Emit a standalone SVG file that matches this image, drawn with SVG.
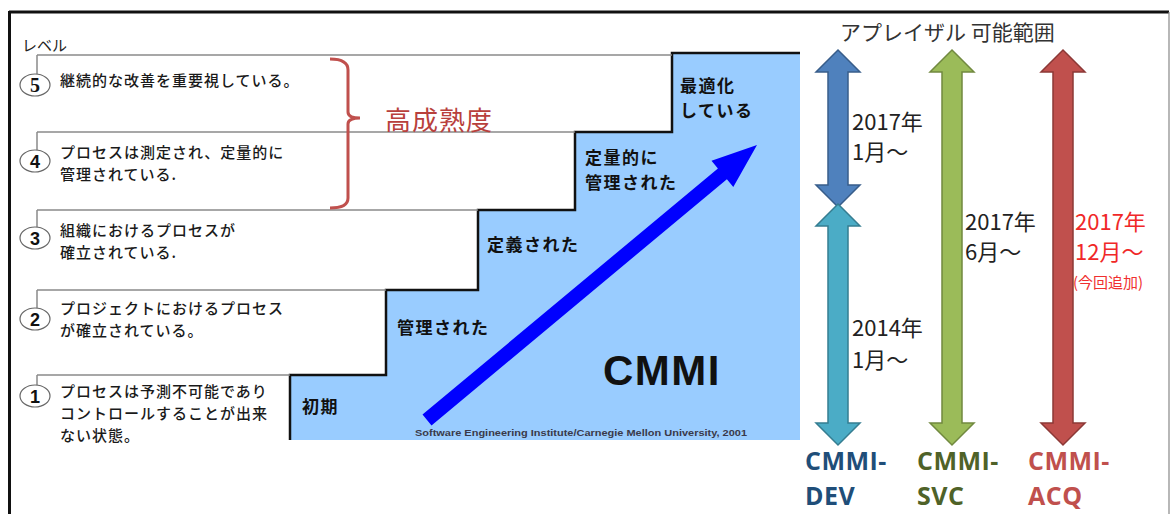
<svg xmlns="http://www.w3.org/2000/svg" width="1171" height="514" viewBox="0 0 1171 514">
<style>
.jp{font-family:"Noto Sans CJK JP","Noto Sans",sans-serif}
.desc{font-size:15px;letter-spacing:1px;font-weight:500;fill:#1a1a1a}
.step{font-size:17px;letter-spacing:1.5px;font-weight:bold;fill:#111}
.lvl{fill:none;stroke:#8a8a8a;stroke-width:1.5}
.circ{fill:#fff;stroke:#666;stroke-width:1.2}
.num{font-family:"Liberation Sans",Arial,sans-serif;font-weight:bold;font-size:18px;fill:#111;text-anchor:middle}
.date{font-size:22px;fill:#222}
.big{font-family:"Open Sans","Liberation Sans",sans-serif;font-weight:bold;font-size:25px;letter-spacing:0.5px}
</style>
<rect x="0" y="0" width="1171" height="514" fill="#fff"/>
<g id="frame" fill="none">
<line x1="9" y1="12" x2="1169" y2="12" stroke="#111" stroke-width="3"/>
<line x1="9.5" y1="11" x2="9.5" y2="514" stroke="#111" stroke-width="3"/>
<line x1="1169" y1="12" x2="1169" y2="514" stroke="#888" stroke-width="1.2"/>
</g>
<g id="stairs">
<path d="M290,440 L290,375 L386,375 L386,290 L478,290 L478,210 L575,210 L575,132 L672,132 L672,53 L800,53 L800,440 Z" fill="#99CCFF"/>
<polyline points="290,440 290,375 386,375 386,290 478,290 478,210 575,210 575,132 672,132 672,53 800,53" fill="none" stroke="#111" stroke-width="2.5"/>
<text class="jp step" x="680" y="92">最適化</text>
<text class="jp step" x="680" y="117">している</text>
<text class="jp step" x="585" y="164">定量的に</text>
<text class="jp step" x="585" y="189">管理された</text>
<text class="jp step" x="487" y="251">定義された</text>
<text class="jp step" x="397" y="334">管理された</text>
<text class="jp step" x="302" y="413">初期</text>
<text x="603" y="385" font-family="Liberation Sans,Arial,sans-serif" font-weight="bold" font-size="42" letter-spacing="1.5" fill="#111">CMMI</text>
<text x="415" y="436" font-family="Liberation Sans,Arial,sans-serif" font-weight="bold" font-size="9.5" fill="#3a3a4a" textLength="332" lengthAdjust="spacingAndGlyphs">Software Engineering Institute/Carnegie Mellon University, 2001</text>
</g>
<text class="jp" x="22" y="51" font-size="15" fill="#222">レベル</text>
<g id="level5">
<line class="lvl" x1="37" y1="55" x2="672" y2="55"/>
<line class="lvl" x1="37" y1="55" x2="37" y2="74"/>
<ellipse class="circ" cx="35" cy="85" rx="15" ry="11"/>
<text x="35" y="92" font-family="Liberation Serif,serif" font-weight="bold" font-size="20" fill="#111" text-anchor="middle">5</text>
<text class="jp desc" x="60" y="86">継続的な改善を重要視している。</text>
</g>
<g id="level4">
<line class="lvl" x1="37" y1="132" x2="575" y2="132"/>
<line class="lvl" x1="37" y1="132" x2="37" y2="150"/>
<ellipse class="circ" cx="35" cy="161" rx="15" ry="11"/>
<text class="num" x="35" y="168">4</text>
<text class="jp desc" x="60" y="158">プロセスは測定され、定量的に</text>
<text class="jp desc" x="60" y="180">管理されている.</text>
</g>
<g id="level3">
<line class="lvl" x1="37" y1="210" x2="478" y2="210"/>
<line class="lvl" x1="37" y1="210" x2="37" y2="227"/>
<ellipse class="circ" cx="35" cy="238" rx="15" ry="11"/>
<text class="num" x="35" y="245">3</text>
<text class="jp desc" x="60" y="236">組織におけるプロセスが</text>
<text class="jp desc" x="60" y="258">確立されている.</text>
</g>
<g id="level2">
<line class="lvl" x1="37" y1="290" x2="386" y2="290"/>
<line class="lvl" x1="37" y1="290" x2="37" y2="308"/>
<ellipse class="circ" cx="35" cy="319" rx="15" ry="11"/>
<text class="num" x="35" y="326">2</text>
<text class="jp desc" x="60" y="314">プロジェクトにおけるプロセス</text>
<text class="jp desc" x="60" y="336">が確立されている。</text>
</g>
<g id="level1">
<line class="lvl" x1="37" y1="375" x2="290" y2="375"/>
<line class="lvl" x1="37" y1="375" x2="37" y2="385"/>
<ellipse class="circ" cx="35" cy="396" rx="15" ry="11"/>
<text class="num" x="35" y="403">1</text>
<text class="jp desc" x="60" y="397">プロセスは予測不可能であり</text>
<text class="jp desc" x="60" y="419">コントロールすることが出来</text>
<text class="jp desc" x="60" y="441">ない状態。</text>
</g>
<g id="high-maturity">
<path d="M330,59 Q348,59 348,70 L348,112 Q348,118 360,118 Q348,118 348,124 L348,198 Q348,208 330,208" fill="none" stroke="#C0504D" stroke-width="3"/>
<text class="jp" x="385" y="130" font-size="26" letter-spacing="1" fill="#B8403C">高成熟度</text>
</g>
<g id="connectors">
<polygon points="422.5,414.6 717.9,168.4 711.5,160.7 757,145 733.3,186.9 726.9,179.2 431.5,425.4" fill="#0000FF"/>
<path d="M838,50 L860,72 L848,72 L848,185 L860,185 L838,207 L816,185 L828,185 L828,72 L816,72 Z" fill="#4F81BD" stroke="#385D8A" stroke-width="1.5"/>
<path d="M838,204 L860,226 L848,226 L848,423 L860,423 L838,445 L816,423 L828,423 L828,226 L816,226 Z" fill="#4BACC6" stroke="#357D91" stroke-width="1.5"/>
<path d="M952,50 L974,72 L962,72 L962,423 L974,423 L952,445 L930,423 L942,423 L942,72 L930,72 Z" fill="#9BBB59" stroke="#71893F" stroke-width="1.5"/>
<path d="M1063,50 L1085,72 L1073,72 L1073,423 L1085,423 L1063,445 L1041,423 L1053,423 L1053,72 L1041,72 Z" fill="#C0504D" stroke="#8C3836" stroke-width="1.5"/>
</g>
<g id="appraisal">
<text class="jp" x="840" y="40" font-size="21" fill="#333">アプレイザル 可能範囲</text>
<text class="jp date" x="852" y="130">2017年</text>
<text class="jp date" x="852" y="160">1月〜</text>
<text class="jp date" x="852" y="336">2014年</text>
<text class="jp date" x="852" y="368">1月〜</text>
<text class="jp date" x="965" y="230">2017年</text>
<text class="jp date" x="965" y="260">6月〜</text>
<text class="jp date" x="1075" y="230" style="fill:#F02828">2017年</text>
<text class="jp date" x="1075" y="260" style="fill:#F02828">12月〜</text>
<text class="jp" x="1073" y="288" font-size="15" fill="#F03030">(今回追加)</text>
<text class="big" x="805" y="470" fill="#1F4E79">CMMI-</text>
<text class="big" x="805" y="505" fill="#1F4E79">DEV</text>
<text class="big" x="917" y="470" fill="#4F6228">CMMI-</text>
<text class="big" x="917" y="505" fill="#4F6228">SVC</text>
<text class="big" x="1028" y="470" fill="#C0504D">CMMI-</text>
<text class="big" x="1028" y="505" fill="#C0504D">ACQ</text>
</g>
</svg>
